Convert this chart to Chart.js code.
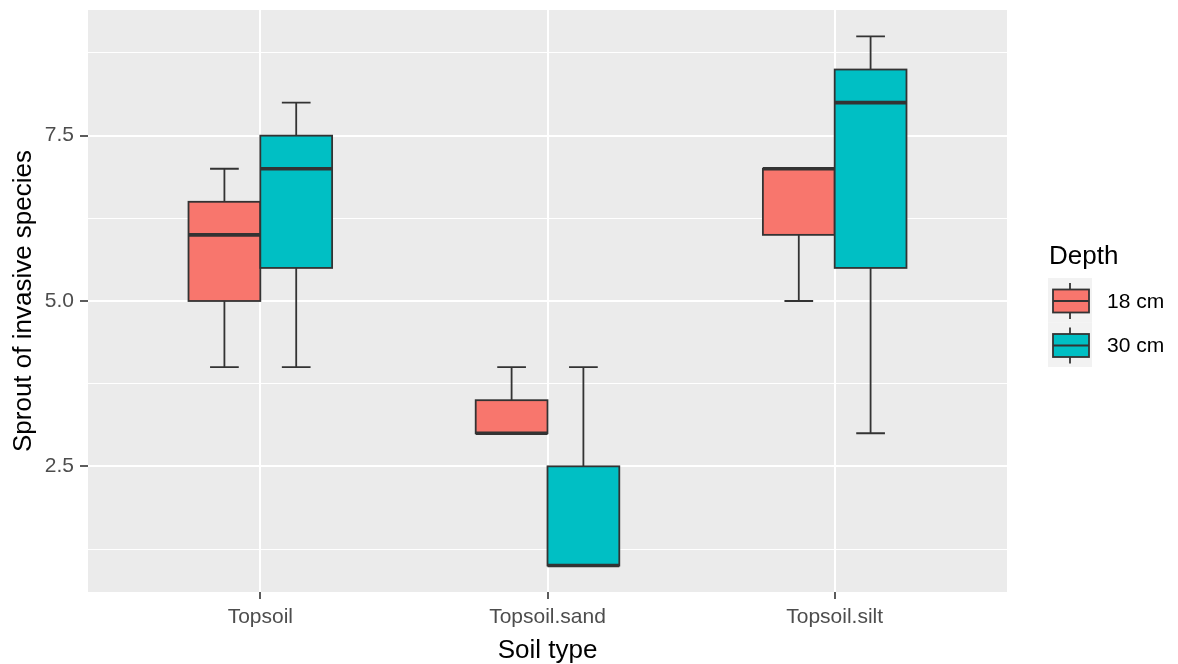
<!DOCTYPE html>
<html>
<head>
<meta charset="utf-8">
<script src="https://cdn.jsdelivr.net/npm/chart.js@4.4.1/dist/chart.umd.min.js"></script>
<style>
  html, body { margin: 0; padding: 0; background: #ffffff; }
  canvas { display: block; }
</style>
</head>
<body>
<canvas id="boxChart" width="1178" height="664"></canvas>
<script>
var soilTypes = ["Topsoil", "Topsoil.sand", "Topsoil.silt"];
var depths = ["18 cm", "30 cm"];
var depthColors = ["#F8766D", "#00BFC4"];
// per soil type: [lower whisker, Q1, median, Q3, upper whisker]
var depth18 = [[4, 5, 6, 6.5, 7], [3, 3, 3, 3.5, 4], [5, 6, 7, 7, 7]];
var depth30 = [[4, 5.5, 7, 7.5, 8], [1, 1, 1, 2.5, 4], [3, 5.5, 8, 8.5, 9]];
var yTickLabels = [2.5, 5.0, 7.5];

var FONT = "'Liberation Sans', Arial, sans-serif";
var LINE = "#333333";

var boxPlugin = {
  id: "ggBoxes",
  beforeDraw: function(chart) {
    var a = chart.chartArea, ctx = chart.ctx;
    ctx.save();
    ctx.fillStyle = "#EBEBEB";
    ctx.fillRect(a.left, a.top, a.right - a.left, a.bottom - a.top);
    ctx.restore();
  },
  afterDatasetsDraw: function(chart) {
    var xs = chart.scales.x, ys = chart.scales.y, ctx = chart.ctx;
    ctx.save();
    ctx.strokeStyle = LINE;
    [depth18, depth30].forEach(function(series, d) {
      series.forEach(function(s, i) {
        var c = i + 1 + (d === 0 ? -0.125 : 0.125);
        var xc = xs.getPixelForValue(c);
        var xl = xs.getPixelForValue(c - 0.125), xr = xs.getPixelForValue(c + 0.125);
        var cl = xs.getPixelForValue(c - 0.05), cr = xs.getPixelForValue(c + 0.05);
        var yLo = ys.getPixelForValue(s[0]), yQ1 = ys.getPixelForValue(s[1]);
        var yMed = ys.getPixelForValue(s[2]), yQ3 = ys.getPixelForValue(s[3]);
        var yHi = ys.getPixelForValue(s[4]);
        // whisker + caps
        ctx.lineWidth = 1.8;
        ctx.beginPath();
        ctx.moveTo(xc, yLo); ctx.lineTo(xc, yHi);
        ctx.moveTo(cl, yLo); ctx.lineTo(cr, yLo);
        ctx.moveTo(cl, yHi); ctx.lineTo(cr, yHi);
        ctx.stroke();
        // box
        ctx.fillStyle = depthColors[d];
        ctx.fillRect(xl, yQ3, xr - xl, yQ1 - yQ3);
        ctx.strokeRect(xl, yQ3, xr - xl, yQ1 - yQ3);
        // median
        ctx.lineWidth = 3.6;
        ctx.beginPath();
        ctx.moveTo(xl, yMed); ctx.lineTo(xr, yMed);
        ctx.stroke();
      });
    });
    ctx.restore();
  },
  afterDraw: function(chart) {
    var ctx = chart.ctx;
    var lx = chart.chartArea.right + 41;
    ctx.save();
    ctx.fillStyle = "#000000";
    ctx.font = "26px " + FONT;
    ctx.textBaseline = "alphabetic";
    ctx.textAlign = "left";
    ctx.fillText("Depth", lx + 1, 264);
    depths.forEach(function(name, d) {
      var top = 278 + d * 44.5;
      ctx.fillStyle = "#F2F2F2";
      ctx.fillRect(lx, top, 44, 44.5);
      var mid = top + 23;
      ctx.strokeStyle = LINE;
      ctx.lineWidth = 1.8;
      ctx.beginPath();
      ctx.moveTo(lx + 22, mid - 18); ctx.lineTo(lx + 22, mid + 18);
      ctx.stroke();
      ctx.fillStyle = depthColors[d];
      ctx.fillRect(lx + 5, mid - 11.5, 36, 23);
      ctx.strokeRect(lx + 5, mid - 11.5, 36, 23);
      ctx.beginPath();
      ctx.moveTo(lx + 5, mid); ctx.lineTo(lx + 41, mid);
      ctx.stroke();
      ctx.fillStyle = "#000000";
      ctx.font = "21px " + FONT;
      ctx.textBaseline = "middle";
      ctx.fillText(name, lx + 59, mid + 1);
    });
    ctx.restore();
  }
};

var ctx = document.getElementById("boxChart").getContext("2d");
var boxChart = new Chart(ctx, {
  type: "scatter",
  data: { datasets: [] },
  plugins: [boxPlugin],
  options: {
    responsive: false,
    animation: false,
    devicePixelRatio: 1,
    layout: { padding: { left: 0, right: 171, top: 10, bottom: 0 } },
    plugins: { legend: { display: false }, tooltip: { enabled: false } },
    scales: {
      x: {
        type: "linear",
        min: 0.4,
        max: 3.6,
        afterFit: function(s) { s.height = 72; s.paddingLeft = 0; s.paddingRight = 0; },
        border: { display: false },
        grid: { color: "#FFFFFF", lineWidth: 2, tickColor: LINE, tickLength: 7, tickWidth: 1.6 },
        ticks: {
          stepSize: 1,
          includeBounds: false,
          autoSkip: false,
          maxRotation: 0,
          padding: 6,
          color: "#4D4D4D",
          font: { family: FONT, size: 21 },
          callback: function(v) { return soilTypes[v - 1] || ""; }
        },
        title: {
          display: true,
          text: "Soil type",
          color: "#000000",
          font: { family: FONT, size: 26 },
          padding: { top: 0, bottom: -2 }
        }
      },
      y: {
        type: "linear",
        min: 0.6,
        max: 9.4,
        afterFit: function(s) { s.width = 88; s.paddingTop = 0; s.paddingBottom = 0; },
        border: { display: false },
        grid: {
          color: "#FFFFFF",
          lineWidth: function(c) { return yTickLabels.indexOf(c.tick && c.tick.value) >= 0 ? 2 : 1; },
          tickColor: function(c) { return yTickLabels.indexOf(c.tick && c.tick.value) >= 0 ? LINE : "rgba(0,0,0,0)"; },
          tickLength: 8,
          tickWidth: 1.6
        },
        ticks: {
          stepSize: 1.25,
          includeBounds: false,
          autoSkip: false,
          padding: 6,
          color: "#4D4D4D",
          font: { family: FONT, size: 21 },
          callback: function(v) { return yTickLabels.indexOf(v) >= 0 ? v.toFixed(1) : ""; }
        },
        title: {
          display: true,
          text: "Sprout of invasive species",
          color: "#000000",
          font: { family: FONT, size: 26 },
          padding: { top: 8, bottom: 0 }
        }
      }
    }
  }
});
</script>
</body>
</html>
